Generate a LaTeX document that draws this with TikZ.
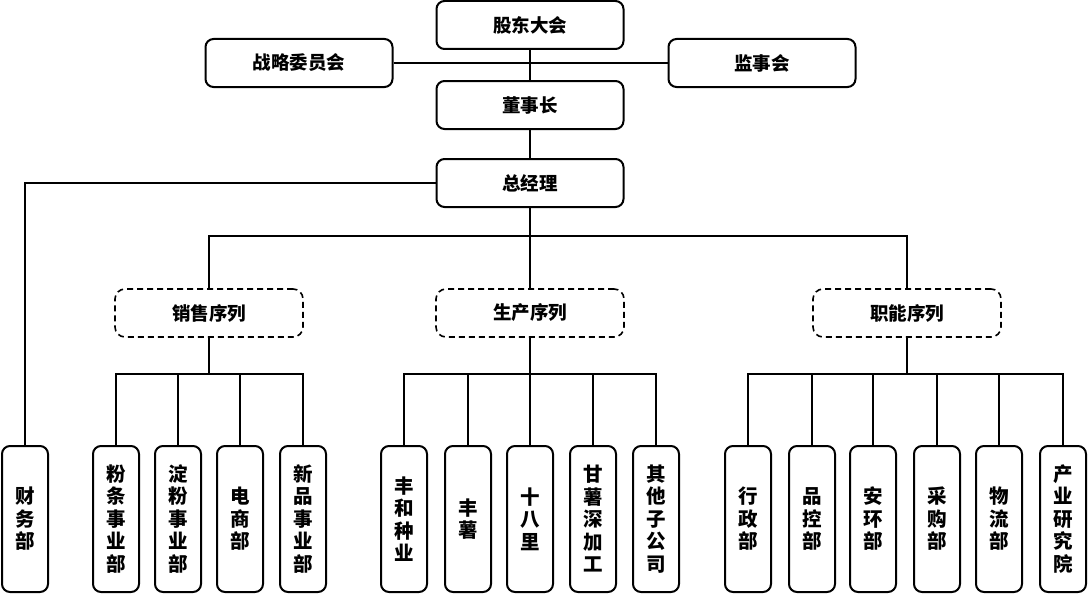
\documentclass[tikz,border=0pt]{standalone}
\usepackage{fontspec}
\setmainfont{Noto Sans CJK SC}

\begin{document}
\begin{tikzpicture}[x=1pt, y=-1pt, line width=2pt,
    box/.style={draw, rounded corners=8pt, line width=2pt, minimum width=187pt, minimum height=48pt,
        inner sep=0pt, font=\bfseries\fontsize{18.5}{22}\selectfont},
    group/.style={draw, rounded corners=10pt, line width=1.6pt, dash pattern=on 6pt off 4pt,
        minimum width=188pt, minimum height=48pt, inner sep=0pt, font=\bfseries\fontsize{18.5}{22}\selectfont},
    leaf/.style={draw, rounded corners=8pt, line width=2pt, minimum width=46pt, minimum height=146pt,
        inner sep=0pt, align=center, font=\bfseries\fontsize{19.5}{22.5}\selectfont}]
    \useasboundingbox (0,0) rectangle (1089,594);

    % top of the chart
    \node[box] (gd) at (530,25) {股东大会};
    \node[box] (zl) at (299,63) {战略委员会};
    \node[box] (js) at (762,63) {监事会};
    \node[box] (dsz) at (530,105) {董事长};
    \node[box] (zjl) at (530,183) {总经理};

    % three series
    \node[group] (xs) at (209,313) {销售序列};
    \node[group] (sc) at (530,313) {生产序列};
    \node[group] (zn) at (907,313) {职能序列};

    % departments
    \foreach \name/\x/\label in {cw/25/{财\\务\\部},
        ft/116/{粉\\条\\事\\业\\部}, df/178/{淀\\粉\\事\\业\\部}, dsb/240/{电\\商\\部}, xp/303/{新\\品\\事\\业\\部},
        fh/404/{丰\\和\\种\\业}, fs/468/{丰\\薯}, sbl/530/{十\\八\\里}, gs/593/{甘\\薯\\深\\加\\工}, qt/656/{其\\他\\子\\公\\司},
        xz/748/{行\\政\\部}, pk/812/{品\\控\\部}, ah/873/{安\\环\\部}, cg/937/{采\\购\\部}, wl/999/{物\\流\\部}, cy/1063/{产\\业\\研\\究\\院}}
        \node[leaf] (\name) at (\x,519) {\label};

    % connectors
    \draw (gd) -- (dsz);
    \draw (zl) -- (js);
    \draw (dsz) -- (zjl);
    \draw (zjl) -| (cw);
    \draw (zjl) -- (sc);
    \coordinate (b0) at (530,236);
    \draw (xs) |- (b0) -| (zn);

    \coordinate (b1) at (209,374);
    \coordinate (b2) at (530,374);
    \coordinate (b3) at (907,374);
    \draw (xs) -- (b1);
    \draw (sc) -- (b2);
    \draw (zn) -- (b3);
    \foreach \c in {ft,df,dsb,xp} \draw (\c) |- (b1);
    \foreach \c in {fh,fs,sbl,gs,qt} \draw (\c) |- (b2);
    \foreach \c in {xz,pk,ah,cg,wl,cy} \draw (\c) |- (b3);
\end{tikzpicture}
\end{document}
